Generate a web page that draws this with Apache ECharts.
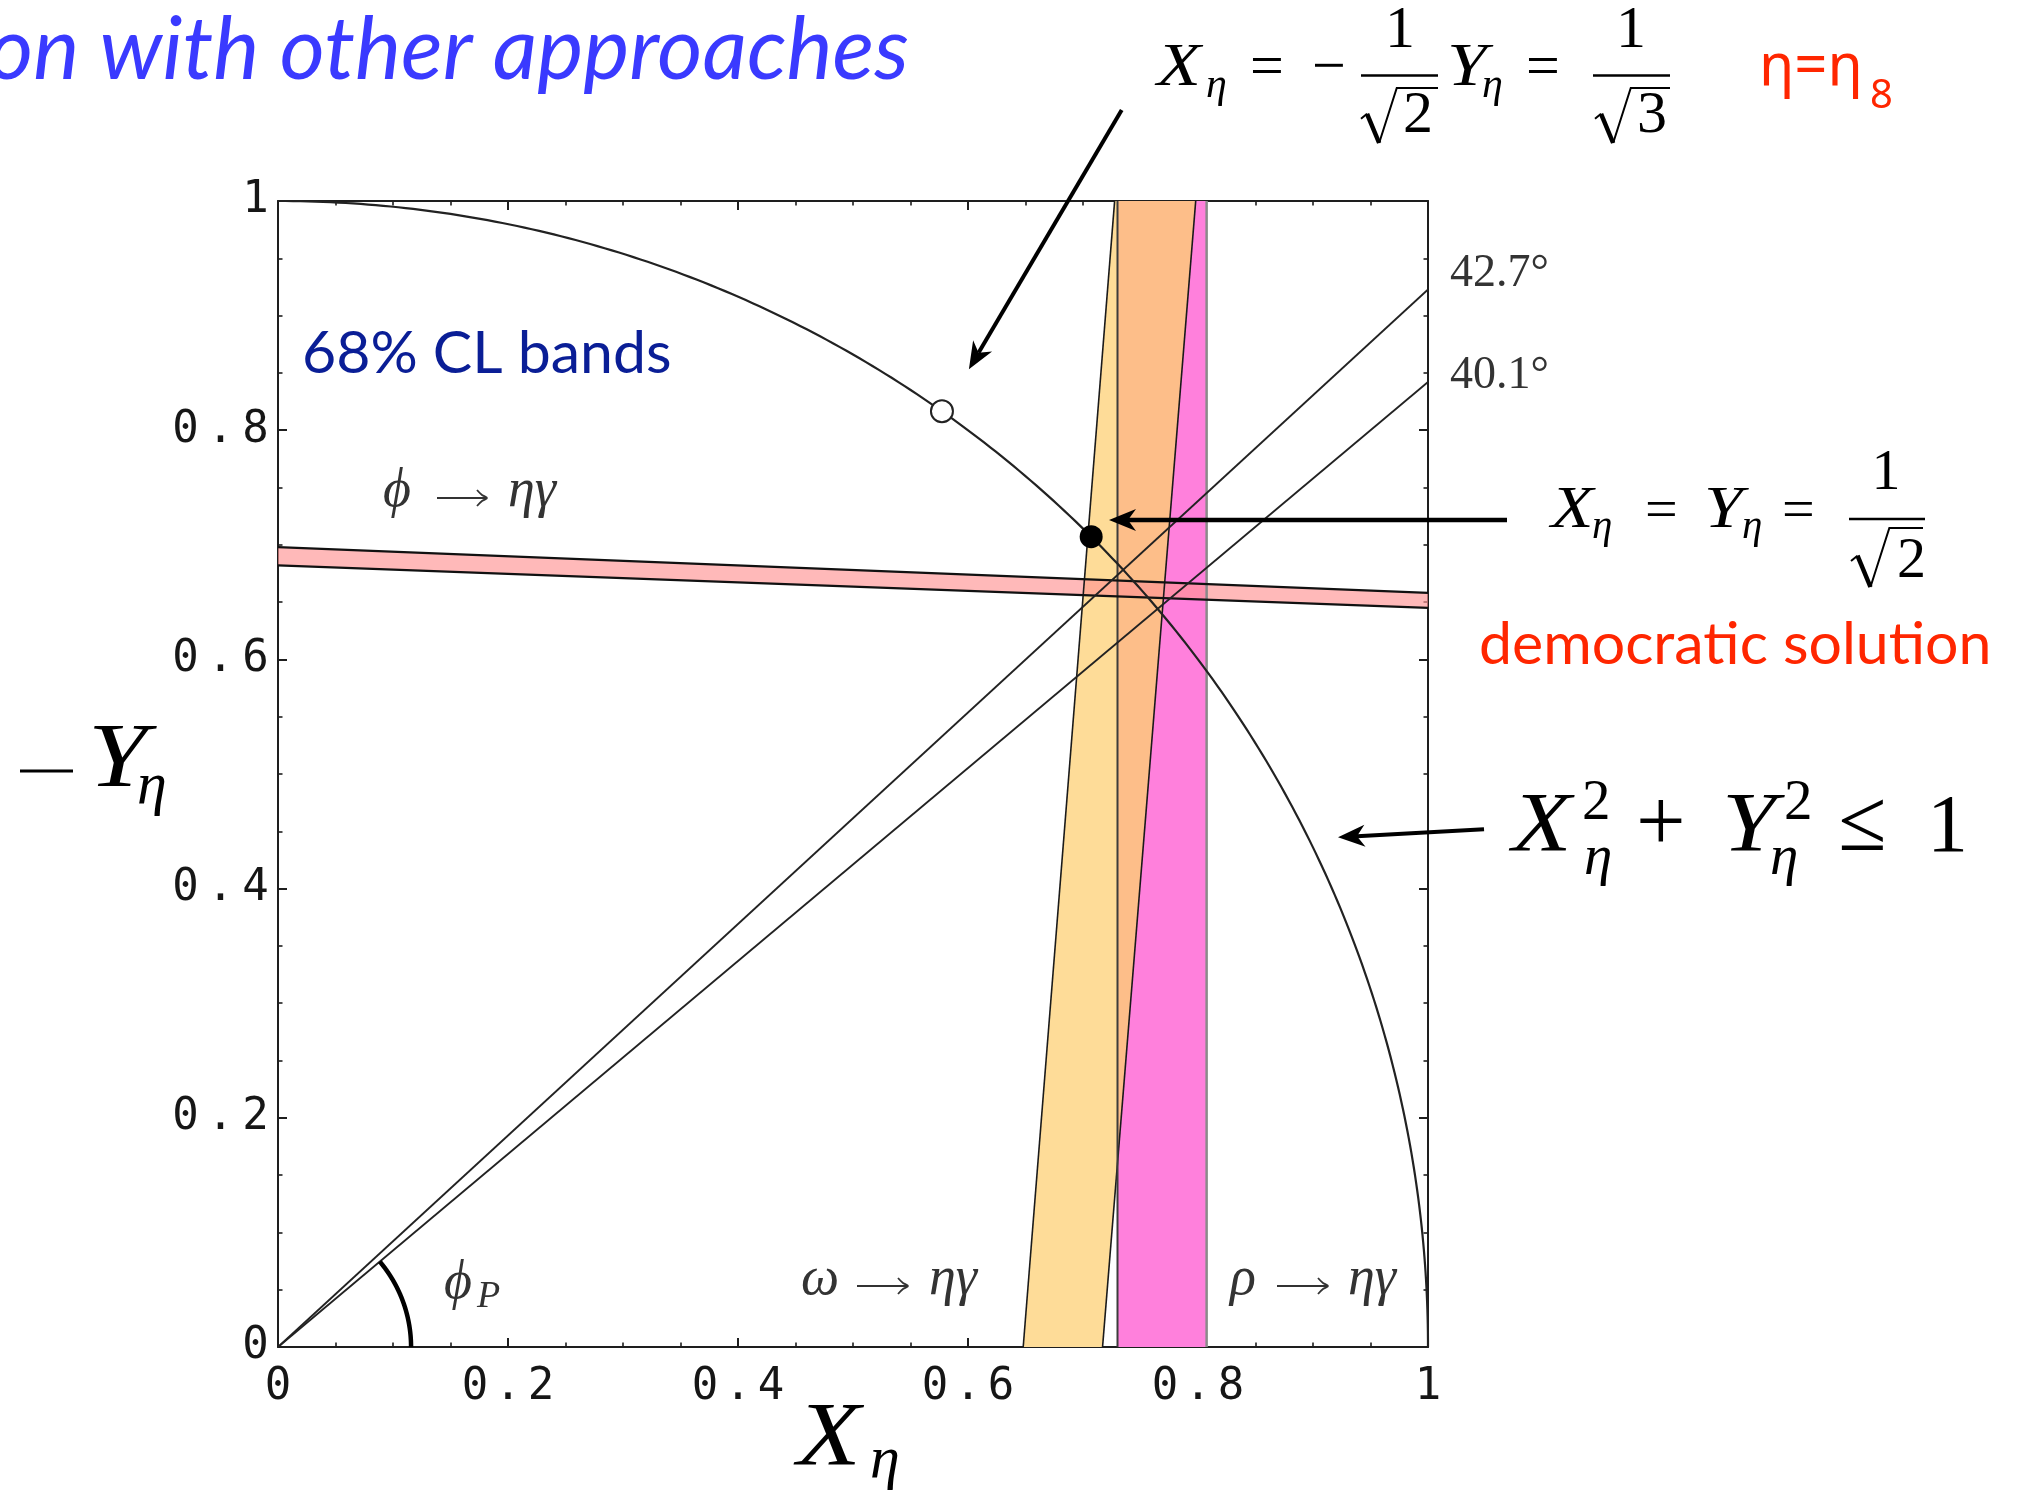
<!DOCTYPE html>
<html>
<head>
<meta charset="utf-8">
<style>
  html, body { margin: 0; padding: 0; background: #ffffff; }
  #chart { width: 2031px; height: 1496px; }
</style>
<script src="https://cdn.jsdelivr.net/npm/echarts@6/dist/echarts.min.js"></script>
</head>
<body>
<div id="chart"></div>
<script>
// ---- data: (X_eta, -Y_eta) plane ----
const axisTickValues = [0, 0.2, 0.4, 0.6, 0.8, 1];

// phi -> eta gamma band: upper / lower edge
const phiUpper = [[0, 0.698], [1, 0.658]];
const phiLower = [[0, 0.682], [1, 0.645]];

// omega -> eta gamma band: left / right edge
const omegaLeft = [[0.648, 0], [0.7275, 1]];
const omegaRight = [[0.717, 0], [0.798, 1]];

// rho -> eta gamma band: X range
const rhoRange = [0.730, 0.8075];

// mixing-angle lines (degrees) and the phi_P angle marker
const mixingAngles = [42.7, 40.1];
const phiPMarker = { radius: 0.1157, angle: 40.1 };

// eta = eta_8 point and democratic solution
const eta8Point = [1 / Math.sqrt(3), Math.sqrt(2 / 3)];
const democraticPoint = [1 / Math.SQRT2, 1 / Math.SQRT2];

// ---- helpers ----
const deg = Math.PI / 180;
function xAt(edge, y) {
  const [[x0, y0], [x1, y1]] = edge;
  return x0 + (x1 - x0) * (y - y0) / (y1 - y0);
}
// overlap of the omega band with the rho band
function overlapPolygon() {
  const [r0, r1] = rhoRange;
  const ys = [0, 1];
  [omegaLeft, omegaRight].forEach(e => {
    [r0, r1].forEach(r => {
      const y = e[0][1] + (r - e[0][0]) * (e[1][1] - e[0][1]) / (e[1][0] - e[0][0]);
      if (y > 0 && y < 1) ys.push(y);
    });
  });
  ys.sort((a, b) => a - b);
  const left = y => Math.max(xAt(omegaLeft, y), r0);
  const right = y => Math.max(Math.min(xAt(omegaRight, y), r1), left(y));
  const pts = ys.map(y => [left(y), y]);
  ys.slice().reverse().forEach(y => pts.push([right(y), y]));
  return pts;
}

function polygonSeries(name, pts, fill, opacity, z) {
  return {
    type: 'custom', name, z, silent: true, clip: true,
    data: [[0, 0]],
    renderItem: (params, api) => ({
      type: 'polygon',
      shape: { points: pts.map(p => api.coord(p)) },
      style: { fill, opacity }
    })
  };
}
function edgeSeries(name, pts, color, width, z) {
  return {
    type: 'line', name, z, silent: true, data: pts,
    showSymbol: false, symbol: 'none', clip: true,
    lineStyle: { color, width }
  };
}
function arcSeries(name, radius, a0, a1, color, width, z) {
  return {
    type: 'custom', name, z, silent: true, clip: false,
    data: [[0, 0]],
    renderItem: (params, api) => {
      const pts = [];
      for (let a = a0; a <= a1 + 1e-9; a += (a1 - a0) / 240) {
        pts.push(api.coord([radius * Math.cos(a * deg), radius * Math.sin(a * deg)]));
      }
      return { type: 'polyline', shape: { points: pts }, style: { stroke: color, lineWidth: width, fill: null } };
    }
  };
}

const monoRich = (w) => ({
  c: { width: w, align: 'center', fontFamily: '"DejaVu Sans Mono", monospace', fontSize: 44, color: '#161616' }
});
const spacedLabel = v => {
  const s = String(Math.round(v * 10) / 10);
  return s.split('').map(ch => '{c|' + ch + '}').join('');
};

const frameLine = { show: true, onZero: false, lineStyle: { color: '#1e1e1e', width: 2 } };
const tickStyle = { show: true, inside: true, length: 9, lineStyle: { color: '#1e1e1e', width: 2 } };
const minorStyle = { show: true, splitNumber: 4, length: 4.5, lineStyle: { color: '#1e1e1e', width: 1.6 } };

function axis(position, labelOpt) {
  return {
    type: 'value', position, min: 0, max: 1, interval: 0.2,
    axisLine: frameLine, axisTick: tickStyle, minorTick: minorStyle,
    splitLine: { show: false }, minorSplitLine: { show: false },
    axisLabel: labelOpt
  };
}

const series = [
  polygonSeries('omega band', [omegaLeft[0], omegaLeft[1], omegaRight[1], omegaRight[0]], '#fedc98', 1, 1),
  polygonSeries('rho band', [[rhoRange[0], 0], [rhoRange[0], 1], [rhoRange[1], 1], [rhoRange[1], 0]], '#ff80dc', 1, 2),
  polygonSeries('omega-rho overlap', overlapPolygon(), '#fdbe89', 1, 3),
  polygonSeries('phi band', [phiUpper[0], phiUpper[1], phiLower[1], phiLower[0]], '#ff9494', 0.65, 4),
  edgeSeries('omega left edge', omegaLeft, '#1a1a1a', 1.6, 5),
  edgeSeries('omega right edge', omegaRight, '#1a1a1a', 1.6, 5),
  edgeSeries('rho left edge', [[rhoRange[0], 0], [rhoRange[0], 1]], '#3c3c3c', 2, 5),
  edgeSeries('rho right edge', [[rhoRange[1], 0], [rhoRange[1], 1]], '#8a8a8a', 2.5, 5),
  edgeSeries('phi upper edge', phiUpper, '#111', 2.2, 6),
  edgeSeries('phi lower edge', phiLower, '#111', 2.2, 6),
  arcSeries('unit circle', 1, 0, 90, '#222', 2.2, 7),
  ...mixingAngles.map(a => edgeSeries(a + '°', [[0, 0], [1, Math.tan(a * deg)]], '#222', 1.8, 7)),
  arcSeries('phi_P', phiPMarker.radius, 0, phiPMarker.angle, '#000', 4.5, 8),
  {
    type: 'scatter', name: 'eta8', z: 9, silent: true, data: [eta8Point],
    symbol: 'circle', symbolSize: 22,
    itemStyle: { color: '#ffffff', borderColor: '#222', borderWidth: 2, opacity: 1 }
  },
  {
    type: 'scatter', name: 'democratic', z: 9, silent: true, data: [democraticPoint],
    symbol: 'circle', symbolSize: 23,
    itemStyle: { color: '#000000', opacity: 1 }
  }
];

// ---- text and arrow annotations ----
const SERIF = '"Liberation Serif", "DejaVu Serif", serif';
const SANS = 'Lato, "Noto Sans", sans-serif';
function txt(s, x, base, size, o = {}) {
  const fam = o.family || SERIF;
  const k = o.k != null ? o.k : 0.34;
  const el = {
    type: 'text', z: 100, silent: true, x, y: base - k * size,
    style: {
      text: s, fill: o.color || '#000',
      font: (o.italic ? 'italic ' : 'normal ') + (o.weight || 'normal') + ' ' + size + 'px ' + fam,
      align: o.align || 'left', verticalAlign: 'middle',
      textAlign: o.align || 'left', textVerticalAlign: 'middle'
    }
  };
  if (o.sx) el.scaleX = o.sx;
  return el;
}
function seg(x1, y1, x2, y2, w, color) {
  return { type: 'line', z: 100, silent: true, shape: { x1, y1, x2, y2 }, style: { stroke: color || '#000', lineWidth: w } };
}
function arrow(x1, y1, tx, ty, w) {
  const L = 27, W = 11, notch = 8;
  const len = Math.hypot(tx - x1, ty - y1);
  const dx = (tx - x1) / len, dy = (ty - y1) / len;
  const nx = -dy, ny = dx;
  const bx = tx - L * dx, by = ty - L * dy;
  const mx = tx - (L - notch) * dx, my = ty - (L - notch) * dy;
  return [
    seg(x1, y1, mx, my, w),
    { type: 'polygon', z: 100, silent: true,
      shape: { points: [[tx, ty], [bx + W * nx, by + W * ny], [mx, my], [bx - W * nx, by - W * ny]] },
      style: { fill: '#000' } }
  ];
}
// math-style right arrow (\to) drawn as strokes
function toArrow(x0, x1, y, color) {
  return [
    seg(x0, y, x1, y, 1.8, color),
    { type: 'polyline', z: 100, silent: true,
      shape: { points: [[x1 - 10, y - 8], [x1 - 5, y - 3], [x1, y], [x1 - 5, y + 3], [x1 - 10, y + 8]], smooth: 0.4 },
      style: { stroke: color, lineWidth: 1.8, fill: null } }
  ];
}
function radical(x, yTop, yBot, xEnd) {
  const H = yBot - yTop;
  const p1 = [x, yTop + 0.56 * H], p2 = [x + 0.11 * H, yTop + 0.47 * H];
  const p3 = [x + 0.33 * H, yBot], p4 = [x + 0.65 * H, yTop], p5 = [xEnd, yTop];
  return [
    { type: 'polyline', z: 100, silent: true, shape: { points: [p1, p2] }, style: { stroke: '#000', lineWidth: 2, fill: null } },
    seg(p2[0], p2[1], p3[0], p3[1], 4.5),
    { type: 'polyline', z: 100, silent: true, shape: { points: [p3, p4, p5] }, style: { stroke: '#000', lineWidth: 2, fill: null } }
  ];
}

const it = { italic: true };
const itW = { italic: true, sx: 1.16 };
const lab = { italic: true, color: '#333' };
const graphics = [
  // heading and notes
  txt('on with other approaches', 909, 85, 87, { family: SANS, italic: true, color: '#3a3aff', align: 'right', k: 0.39 }),
  txt('68% CL bands', 302, 377, 59, { family: SANS, color: '#0a1e96', k: 0.39 }),
  txt('η=η', 1759, 90, 58, { family: '"Noto Sans", sans-serif', color: '#ff2600', k: 0.37 }),
  txt('8', 1870, 111, 40, { family: '"Noto Sans", sans-serif', color: '#ff2600', k: 0.37 }),
  txt('democratic solution', 1479, 668, 59, { family: SANS, color: '#ff2600', k: 0.39 }),

  // X = -Y/sqrt2 = 1/sqrt3
  txt('X', 1157, 90, 62, itW), txt('η', 1206, 100, 42, it),
  txt('=', 1250, 90, 60), txt('−', 1312, 90, 60),
  seg(1361, 75.5, 1438, 75.5, 2.5), txt('1', 1400, 52, 60, { align: 'center' }),
  ...radical(1361, 88, 143, 1438), txt('2', 1403, 137, 60),
  txt('Y', 1447, 90, 62, itW), txt('η', 1482, 100, 42, it),
  txt('=', 1526, 90, 60),
  seg(1593, 75.5, 1670, 75.5, 2.5), txt('1', 1631, 52, 60, { align: 'center' }),
  ...radical(1595, 88, 143, 1670), txt('3', 1637, 137, 60),

  // X = Y = 1/sqrt2
  txt('X', 1551, 532, 60, itW), txt('η', 1592, 541, 41, it),
  txt('=', 1645, 532, 58),
  txt('Y', 1704, 532, 60, itW), txt('η', 1742, 541, 41, it),
  txt('=', 1782, 532, 58),
  seg(1849, 519, 1925, 519, 2.5), txt('1', 1886, 493, 58, { align: 'center' }),
  ...radical(1851, 528, 587, 1923), txt('2', 1897, 581, 58),

  // X^2 + Y^2 <= 1
  txt('X', 1512, 857, 84, itW), txt('2', 1582, 823, 57), txt('η', 1584, 878, 57, it),
  txt('+', 1636, 857, 88),
  txt('Y', 1722, 857, 84, itW), txt('2', 1784, 823, 57), txt('η', 1770, 878, 57, it),
  txt('≤', 1838, 857, 88),
  txt('1', 1927, 857, 82),

  // axis titles
  txt('X', 797, 1472, 90, itW), txt('η', 870, 1482, 60, it),
  { type: 'rect', z: 100, silent: true, shape: { x: 20, y: 769.5, width: 53, height: 3 }, style: { fill: '#000' } },
  txt('Y', 88, 793, 92, itW), txt('η', 137, 808, 60, it),

  // band and angle labels
  txt('ϕ', 383, 510, 54, lab), ...toArrow(437, 487, 498, '#333'), txt('ηγ', 508, 510, 54, lab),
  txt('ω', 801, 1298, 54, lab), ...toArrow(857, 908, 1286, '#333'), txt('ηγ', 929, 1298, 54, lab),
  txt('ρ', 1230, 1298, 54, lab), ...toArrow(1277, 1328, 1286, '#333'), txt('ηγ', 1348, 1298, 54, lab),
  txt('ϕ', 444, 1302, 54, lab),
  txt('P', 477, 1310, 38, lab),
  txt('42.7°', 1450, 290, 46, { color: '#333' }),
  txt('40.1°', 1450, 392, 46, { color: '#333' }),

  // pointer arrows
  ...arrow(1121.7, 110, 968.9, 369.2, 4),
  ...arrow(1507, 520, 1109, 520, 4.5),
  ...arrow(1484, 829.3, 1338, 837.3, 4)
];

const chart = echarts.init(document.getElementById('chart'), null, { renderer: 'canvas' });
chart.setOption({
  animation: false,
  backgroundColor: '#ffffff',
  grid: { left: 278, top: 201, width: 1150, height: 1146, containLabel: false },
  xAxis: [
    axis('bottom', { show: true, margin: 19, formatter: spacedLabel, rich: monoRich(33) }),
    axis('top', { show: false })
  ],
  yAxis: [
    axis('left', { show: true, margin: 5, formatter: spacedLabel, rich: monoRich(35) }),
    axis('right', { show: false })
  ],
  series,
  graphic: graphics
});
</script>
</body>
</html>
